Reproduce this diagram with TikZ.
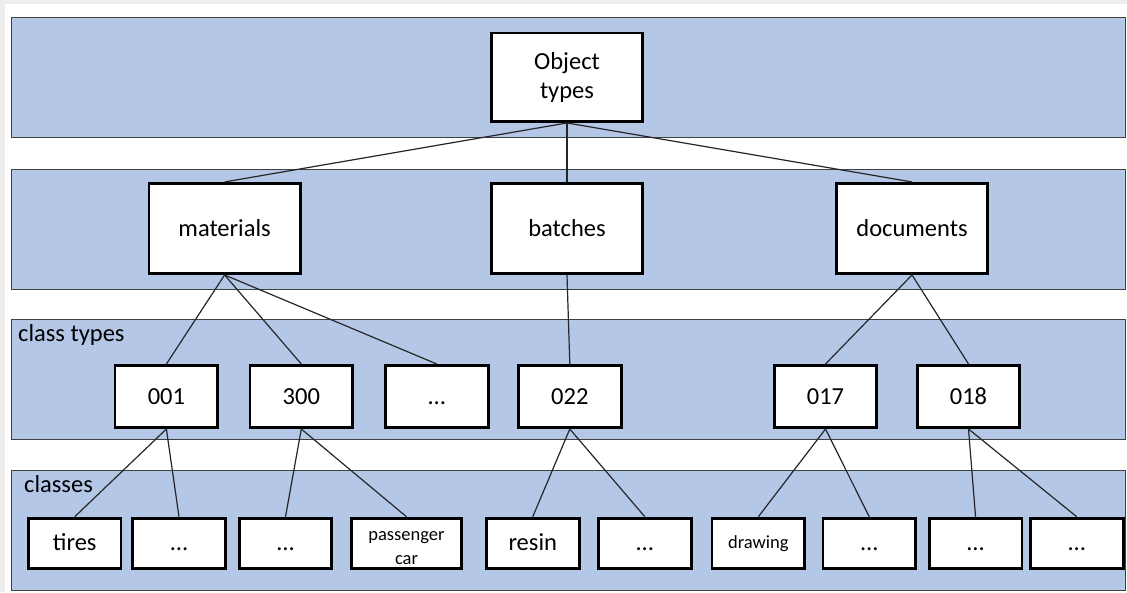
\documentclass[tikz,border=0pt]{standalone}
\usepackage{fontspec}
\setmainfont{Carlito}
\usepackage{tikz}
\usetikzlibrary{positioning}
\definecolor{bandblue}{HTML}{B4C7E7}
\definecolor{bandline}{HTML}{404040}
\definecolor{pagegray}{HTML}{EDEDED}

\begin{document}
\begin{tikzpicture}[x=1pt,y=-1pt,
        band/.style={fill=bandblue,draw=bandline,line width=1pt},
        box/.style={rectangle,draw=black,fill=white,line width=2.8pt,
                    inner sep=0pt,font=\fontsize{24.5}{29.5}\selectfont},
        big/.style={box,minimum width=151.2pt,minimum height=90.2pt},
        ctype/.style={box,minimum width=102.7pt,minimum height=62.2pt,
                      text height=18pt,text depth=3pt},
        clsbox/.style={box,minimum width=92.7pt,minimum height=50.5pt},
        cls/.style={clsbox,text height=17pt,text depth=3pt},
        small/.style={font=\fontsize{18.5}{24}\selectfont},
        lbl/.style={anchor=base west,inner sep=0pt,
                    font=\fontsize{24.5}{29.5}\selectfont},
        link/.style={black!85,line width=1.2pt}]
  \useasboundingbox (0,0) rectangle (1127,592);
  \fill[pagegray] (0,0) rectangle (1127,592);
  \fill[white] (4.5,4) rectangle (1127,592);
  \draw[band] (11.9,17.7) rectangle (1125,137.7);
  \draw[band] (11.9,169) rectangle (1125,289);
  \draw[band] (11.9,319) rectangle (1125,439);
  \draw[band] (11.9,470) rectangle (1125,590);
  \node[lbl] (ctlbl) at (18,341) {class types};
  \node[lbl] (clslbl) at (24,492.5) {classes};

  \node[big,minimum height=88.5pt,align=center] (obj) at (567,77.3) {Object\\types};
  \node[big,below=59pt of obj] (bat) {batches};
  \node[big,left=188.4pt of bat] (mat) {materials};
  \node[big,right=191pt of bat] (doc) {documents};

  \node[ctype] (ct001) at (166.4,396.5) {001};
  \node[ctype,right=29.4pt of ct001] (ct300) {300};
  \node[ctype,right=30pt of ct300] (ctdots) {…};
  \node[ctype,right=27.5pt of ctdots] (ct022) {022};
  \node[ctype,right=150.2pt of ct022] (ct017) {017};
  \node[ctype,right=37.5pt of ct017] (ct018) {018};

  \node[cls] (tires) at (74.7,543.4) {tires};
  \node[cls,right=8.8pt of tires] (dotsa) {…};
  \node[cls,right=11pt of dotsa] (dotsb) {…};
  \node[clsbox,small,minimum width=110.2pt,align=center,right=16.75pt of dotsb] (pcar)
       {\rule{0pt}{18.5pt}passenger\\car};
  \node[cls,right=22pt of pcar] (resin) {resin};
  \node[cls,right=16.6pt of resin] (dotsc) {…};
  \node[cls,small,text height=13pt,right=18pt of dotsc] (drawing) {drawing};
  \node[cls,right=15.4pt of drawing] (dotsd) {…};
  \node[cls,right=10.8pt of dotsd] (dotse) {…};
  \node[cls,right=5.7pt of dotse] (dotsf) {…};

  \draw[link] (obj.south) -- (mat.north);
  \draw[link] (obj.south) -- (bat.north);
  \draw[link] (obj.south) -- (doc.north);
  \draw[link] (mat.south) -- (ct001.north);
  \draw[link] (mat.south) -- (ct300.north);
  \draw[link] (mat.south) -- (ctdots.north);
  \draw[link] (bat.south) -- (ct022.north);
  \draw[link] (doc.south) -- (ct017.north);
  \draw[link] (doc.south) -- (ct018.north);
  \draw[link] (ct001.south) -- (tires.north);
  \draw[link] (ct001.south) -- (dotsa.north);
  \draw[link] (ct300.south) -- (dotsb.north);
  \draw[link] (ct300.south) -- (pcar.north);
  \draw[link] (ct022.south) -- (resin.north);
  \draw[link] (ct022.south) -- (dotsc.north);
  \draw[link] (ct017.south) -- (drawing.north);
  \draw[link] (ct017.south) -- (dotsd.north);
  \draw[link] (ct018.south) -- (dotse.north);
  \draw[link] (ct018.south) -- (dotsf.north);
\end{tikzpicture}
\end{document}
